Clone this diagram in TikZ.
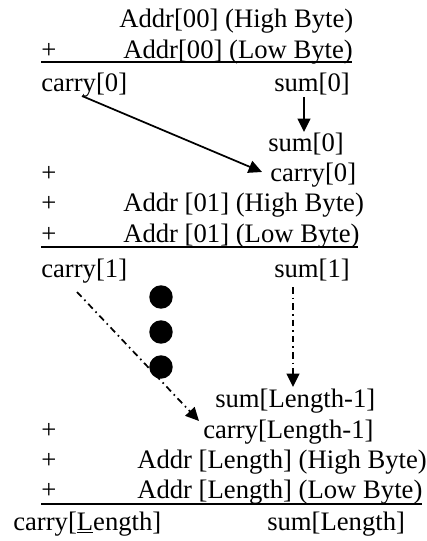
\documentclass[tikz,border=0pt]{standalone}
\usepackage{fontspec}
\setmainfont{Liberation Serif}
\usetikzlibrary{arrows.meta}
\tikzset{
  txt/.style={inner sep=0pt, anchor=base west, font=\fontsize{20pt}{24pt}\selectfont},
  sumline/.style={line width=1.5pt},
  link/.style={line width=1.3pt, -{Triangle[length=10pt,width=9.5pt]}},
  dashlink/.style={link, dash pattern=on 5pt off 3pt on 1.2pt off 3pt}
}
\begin{document}
\begin{tikzpicture}[x=0.75pt, y=-0.75pt]
    \useasboundingbox (0,0) rectangle (426,541);
    % Addr[00]
    \node[txt] (hi0) at (119,28) {Addr[00] (High Byte)};
    \node[txt] (p0) at (41,59) {+};
    \node[txt] (lo0) at (123,59) {Addr[00] (Low Byte)};
    \coordinate (r0a) at (41,62);
    \coordinate (r0b) at (352,62);
    \draw[sumline] (r0a) -- (r0b);
    \node[txt] (c0) at (41,92) {carry[0]};
    \node[txt] (s0) at (274,92) {sum[0]};
    % Addr[01]
    \node[txt] (s0b) at (268,152) {sum[0]};
    \node[txt] (p1) at (41,182) {+};
    \node[txt] (c0b) at (270,182) {carry[0]};
    \node[txt] (p2) at (41,212) {+};
    \node[txt] (hi1) at (123,212) {Addr [01] (High Byte)};
    \node[txt] (p3) at (41,243) {+};
    \node[txt] (lo1) at (123,243) {Addr [01] (Low Byte)};
    \coordinate (r1a) at (41,247);
    \coordinate (r1b) at (358,247);
    \draw[sumline] (r1a) -- (r1b);
    \node[txt] (c1) at (41,277) {carry[1]};
    \node[txt] (s1) at (274,277) {sum[1]};
    % Addr[Length]
    \node[txt] (sn) at (215,407) {sum[Length-1]};
    \node[txt] (p4) at (41,438) {+};
    \node[txt] (cn) at (203,438) {carry[Length-1]};
    \node[txt] (p5) at (41,468) {+};
    \node[txt] (hin) at (137,468) {Addr [Length] (High Byte)};
    \node[txt] (p6) at (41,498) {+};
    \node[txt] (lon) at (137,498) {Addr [Length] (Low Byte)};
    \coordinate (rna) at (41,504);
    \coordinate (rnb) at (422,504);
    \draw[sumline] (rna) -- (rnb);
    \node[txt] (cl) at (13,530) {carry[\underline{L}ength]};
    \node[txt] (sl) at (267,530) {sum[Length]};
    % arrows
    \coordinate (s0out) at (304,97);
    \coordinate (s0in) at (304,132);
    \coordinate (c0out) at (82,96);
    \coordinate (c0in) at (262,172);
    \draw[link] (s0out) -- (s0in);
    \draw[link] (c0out) -- (c0in);
    \coordinate (s1out) at (293,287);
    \coordinate (s1in) at (293,387);
    \coordinate (c1out) at (77,292);
    \coordinate (c1in) at (199,421);
    \draw[dashlink] (s1out) -- (s1in);
    \draw[dashlink] (c1out) -- (c1in);
    \foreach \y in {297,332,367}
        \fill (161,\y) circle [radius=8.8pt];
\end{tikzpicture}
\end{document}
